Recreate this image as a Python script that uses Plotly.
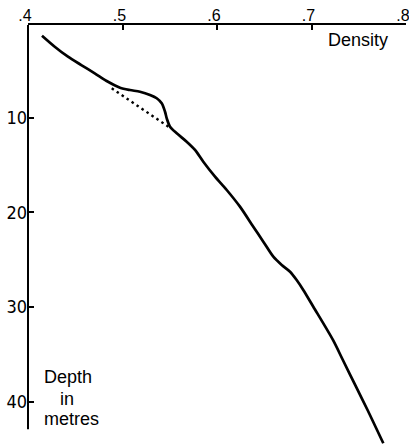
import plotly.graph_objects as go

# Density profile (solid curve): density vs depth in metres
density_solid = [0.4148, 0.4283, 0.4423, 0.4564, 0.4706, 0.4847, 0.4974, 0.5079,
                 0.5185, 0.5291, 0.5362, 0.5415, 0.5450, 0.5468, 0.5503, 0.5574,
                 0.5679, 0.5767, 0.5855, 0.5979, 0.6103, 0.6243, 0.6384, 0.6490,
                 0.6596, 0.6685, 0.6773, 0.6843, 0.6913, 0.7019, 0.7227, 0.7332,
                 0.7471, 0.7593, 0.7760]
depth_solid = [1.33, 2.49, 3.55, 4.43, 5.30, 6.19, 6.82, 7.07,
               7.25, 7.59, 7.94, 8.47, 9.36, 10.06, 10.94, 11.64,
               12.53, 13.40, 14.64, 16.22, 17.63, 19.39, 21.51, 23.09,
               24.68, 25.55, 26.26, 27.14, 28.19, 29.96, 33.47, 35.59,
               38.41, 40.87, 44.39]

# Dotted segment (bridging the bump)
density_dotted = [0.4886, 0.5485]
depth_dotted = [6.89, 10.94]

x_tickvals = [0.4, 0.5, 0.6, 0.7, 0.8]
x_ticktext = [".4", ".5", ".6", ".7", ".8"]
y_tickvals = [10, 20, 30, 40]
y_ticktext = ["10", "20", "30", "40"]

fig = go.Figure()
fig.add_trace(go.Scatter(x=density_solid, y=depth_solid, mode="lines",
                         line=dict(color="black", width=2.7, shape="spline", smoothing=0.8),
                         hoverinfo="skip", showlegend=False))
fig.add_trace(go.Scatter(x=density_dotted, y=depth_dotted, mode="lines",
                         line=dict(color="black", width=2.4, dash="2.5px,3.5px"),
                         hoverinfo="skip", showlegend=False))

label_font = dict(family="Liberation Sans, Arial, sans-serif", size=18, color="black")

fig.add_annotation(x=0.783, y=1.8, xref="x", yref="y", text="Density", showarrow=False,
                   xanchor="right", yanchor="middle", font=label_font)
fig.add_annotation(x=0.4148, y=37.38, xref="x", yref="y", text="Depth", showarrow=False,
                   xanchor="left", yanchor="middle", font=label_font)
fig.add_annotation(x=0.4413, y=39.7, xref="x", yref="y", text="in", showarrow=False,
                   xanchor="center", yanchor="middle", font=label_font)
fig.add_annotation(x=0.4148, y=41.82, xref="x", yref="y", text="metres", showarrow=False,
                   xanchor="left", yanchor="middle", font=label_font)

# Left axis line (shorter than the plot area)
fig.add_shape(type="line", xref="paper", yref="y", x0=0, x1=0, y0=0.2, y1=42.9,
              line=dict(color="black", width=2))

fig.update_layout(
    width=409, height=445,
    margin=dict(l=28, r=3, t=25, b=0),
    paper_bgcolor="white", plot_bgcolor="white",
    xaxis=dict(range=[0.4, 0.8], side="top", tickvals=x_tickvals, ticktext=x_ticktext,
               ticks="inside", ticklen=5, tickwidth=1.5, tickcolor="black",
               showline=True, linecolor="black", linewidth=1.5, showgrid=False,
               zeroline=False, automargin=False, ticklabeloverflow="allow",
               ticklabelshift=-3, ticklabelstandoff=-4,
               tickfont=dict(family="Liberation Sans, Arial, sans-serif", size=16, color="black")),
    yaxis=dict(range=[44.57, 0.2], tickvals=y_tickvals, ticktext=y_ticktext,
               ticks="inside", ticklen=6, tickwidth=1.5, tickcolor="black",
               showline=False, showgrid=False, zeroline=False, automargin=False,
               ticklabeloverflow="allow",
               tickfont=dict(family="Liberation Sans Narrow, Arial Narrow, DejaVu Sans Condensed, sans-serif",
                             size=18, color="black")),
)

fig.write_html("out.html", config={"displayModeBar": False},
               post_script="document.body.style.margin='0';document.body.style.overflow='hidden';")
